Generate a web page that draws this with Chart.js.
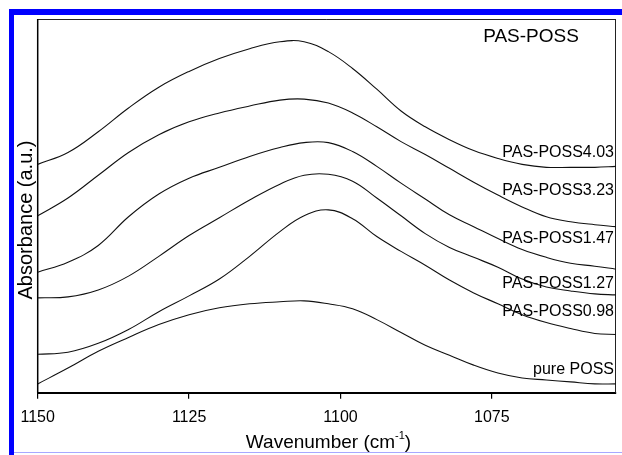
<!DOCTYPE html>
<html>
<head>
<meta charset="utf-8">
<script src="https://cdn.jsdelivr.net/npm/chart.js@4.4.1/dist/chart.umd.min.js"></script>
<style>
  html, body { margin: 0; padding: 0; background: #ffffff; }
  #wrap { position: relative; width: 622px; height: 455px; overflow: hidden; }
  #c { position: absolute; left: 0; top: 0; }
  .frameTop { position: absolute; left: 9px; top: 9px; width: 613px; height: 6px; background: #0000ff; }
  .frameLeft { position: absolute; left: 9px; top: 9px; width: 5px; height: 446px; background: #0000ff; }
  .frameBottom { position: absolute; left: 14px; top: 452px; width: 608px; height: 1px; background: #a8a8ff; }
</style>
</head>
<body>
<div id="wrap">
  <canvas id="c" width="622" height="455"></canvas>
  <div class="frameTop"></div>
  <div class="frameLeft"></div>
  <div class="frameBottom"></div>
</div>
<script>
// ---- data (wavenumber in cm^-1, absorbance in arbitrary units) ----
const wavenumbers = [1150, 1145, 1140, 1135, 1130, 1125, 1120, 1115, 1110, 1106, 1102, 1098, 1094, 1090, 1086, 1082, 1078, 1074, 1070, 1066, 1062, 1058, 1054.5];
const poss403  = [2.31, 2.43, 2.64, 2.88, 3.09, 3.25, 3.38, 3.48, 3.55, 3.55, 3.45, 3.28, 3.07, 2.85, 2.69, 2.56, 2.45, 2.37, 2.31, 2.28, 2.28, 2.28, 2.29];
const poss323  = [1.79, 1.97, 2.20, 2.43, 2.61, 2.74, 2.83, 2.90, 2.96, 2.97, 2.93, 2.83, 2.69, 2.54, 2.41, 2.27, 2.13, 2.00, 1.88, 1.78, 1.73, 1.70, 1.68];
const poss147  = [1.22, 1.32, 1.49, 1.78, 2.01, 2.17, 2.28, 2.39, 2.48, 2.53, 2.53, 2.44, 2.29, 2.12, 1.96, 1.80, 1.68, 1.56, 1.45, 1.37, 1.31, 1.28, 1.25];
const poss127  = [0.96, 0.97, 1.04, 1.18, 1.38, 1.59, 1.77, 1.95, 2.11, 2.20, 2.21, 2.14, 1.97, 1.79, 1.61, 1.47, 1.37, 1.27, 1.15, 1.07, 1.03, 1.00, 0.99];
const poss098  = [0.39, 0.41, 0.50, 0.64, 0.82, 0.98, 1.15, 1.38, 1.63, 1.79, 1.85, 1.76, 1.58, 1.43, 1.29, 1.14, 1.01, 0.90, 0.79, 0.71, 0.65, 0.60, 0.59];
const purePOSS = [0.09, 0.25, 0.42, 0.56, 0.69, 0.79, 0.86, 0.90, 0.92, 0.93, 0.90, 0.85, 0.74, 0.61, 0.48, 0.38, 0.28, 0.20, 0.15, 0.13, 0.11, 0.09, 0.09];
const seriesNames = ['PAS-POSS4.03', 'PAS-POSS3.23', 'PAS-POSS1.47', 'PAS-POSS1.27', 'PAS-POSS0.98', 'pure POSS'];
const xTickValues = [1150, 1125, 1100, 1075];
const panelTitle = 'PAS-POSS';
const xTitle = 'Wavenumber (cm';
const xTitleSup = '-1';
const yTitle = 'Absorbance (a.u.)';

const allSeries = [poss403, poss323, poss147, poss127, poss098, purePOSS];
const FONT = '"Liberation Sans", Arial, Helvetica, sans-serif';

const datasets = allSeries.map((vals, k) => ({
  label: seriesNames[k],
  data: wavenumbers.map((w, i) => ({ x: w, y: vals[i] })),
  borderColor: '#111',
  borderWidth: 1.1,
  pointRadius: 0,
  fill: false,
  tension: 0.4
}));

// label placement (pixel offsets inside the plot, kept out of the data arrays)
const labelLayout = {
  rightInset: 2,
  yCenters: [153, 191, 239, 284, 312, 370]
};

const decorPlugin = {
  id: 'decor',
  beforeDatasetsDraw(chart) {
    const { ctx, chartArea: a } = chart;
    ctx.save();
    ctx.strokeStyle = '#222';
    ctx.lineWidth = 1;
    ctx.beginPath();
    ctx.moveTo(a.left, a.top + 0.5);
    ctx.lineTo(a.right, a.top + 0.5);
    ctx.moveTo(a.right - 0.5, a.top);
    ctx.lineTo(a.right - 0.5, a.bottom);
    ctx.stroke();
    ctx.lineWidth = 1.5;
    ctx.strokeStyle = '#000';
    ctx.beginPath();
    ctx.moveTo(a.left, a.top);
    ctx.lineTo(a.left, a.bottom);
    ctx.stroke();
    ctx.restore();
  },
  afterDraw(chart) {
    const { ctx, chartArea: a } = chart;
    ctx.save();
    ctx.fillStyle = '#000';
    ctx.textBaseline = 'middle';
    // series labels
    ctx.font = '16px ' + FONT;
    ctx.textAlign = 'right';
    seriesNames.forEach((name, k) => {
      ctx.fillText(name, a.right - labelLayout.rightInset, labelLayout.yCenters[k]);
    });
    // panel title
    ctx.font = '19px ' + FONT;
    ctx.textAlign = 'center';
    ctx.fillText(panelTitle, 531, 37);
    // x title with superscript
    ctx.font = '19px ' + FONT;
    const w1 = ctx.measureText(xTitle).width;
    ctx.font = '11px ' + FONT;
    const w2 = ctx.measureText(xTitleSup).width;
    ctx.font = '19px ' + FONT;
    const w3 = ctx.measureText(')').width;
    const total = w1 + w2 + w3;
    let x0 = 328.5 - total / 2;
    const yb = 448;
    ctx.textAlign = 'left';
    ctx.textBaseline = 'alphabetic';
    ctx.fillText(xTitle, x0, yb);
    ctx.font = '11px ' + FONT;
    ctx.fillText(xTitleSup, x0 + w1, yb - 9);
    ctx.font = '19px ' + FONT;
    ctx.fillText(')', x0 + w1 + w2, yb);
    // y title
    ctx.translate(26, 220);
    ctx.rotate(-Math.PI / 2);
    ctx.textAlign = 'center';
    ctx.textBaseline = 'middle';
    ctx.font = '20px ' + FONT;
    ctx.fillText(yTitle, 0, 0);
    ctx.restore();
  }
};

new Chart(document.getElementById('c'), {
  type: 'line',
  data: { datasets },
  options: {
    responsive: false,
    animation: false,
    devicePixelRatio: 1,
    layout: { padding: { left: 37.7, right: 6, top: 19, bottom: 19 } },
    plugins: { legend: { display: false }, tooltip: { enabled: false } },
    scales: {
      x: {
        type: 'linear',
        reverse: true,
        min: 1054.5,
        max: 1150,
        afterBuildTicks(scale) { scale.ticks = xTickValues.map(v => ({ value: v })); },
        ticks: {
          color: '#000', font: { family: FONT, size: 16 }, padding: 9, maxRotation: 0, autoSkip: false,
          callback: (v) => String(v)
        },
        grid: { display: true, drawOnChartArea: false, drawTicks: true, tickLength: 6, color: '#000', lineWidth: 1.2 },
        border: { display: true, color: '#000', width: 2 }
      },
      y: {
        type: 'linear',
        display: false,
        min: 0,
        max: 3.78
      }
    }
  },
  plugins: [decorPlugin]
});
</script>
</body>
</html>
